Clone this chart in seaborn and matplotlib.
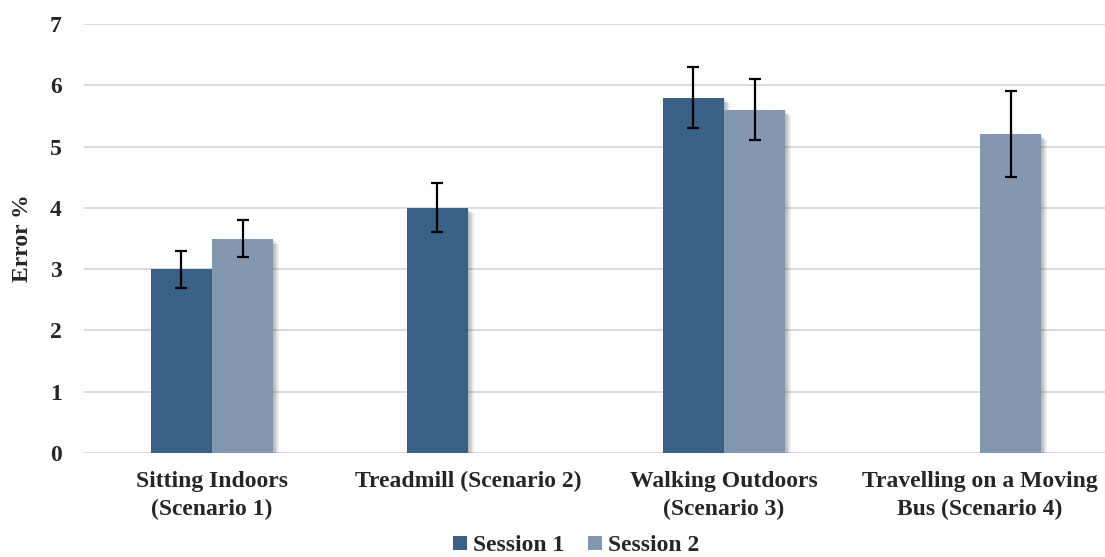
import matplotlib
matplotlib.use("Agg")
import matplotlib.pyplot as plt
import matplotlib.patheffects as pe
from matplotlib.lines import Line2D
import seaborn as sns
import pandas as pd

# Mean error and error-bar half-widths per scenario and session
categories = [
    "Sitting Indoors\n(Scenario 1)",
    "Treadmill (Scenario 2)",
    "Walking Outdoors\n(Scenario 3)",
    "Travelling on a Moving\nBus (Scenario 4)",
]
sessions = ["Session 1", "Session 2"]
session1_err_pct = [3.0, 4.0, 5.8, None]
session2_err_pct = [3.5, None, 5.6, 5.2]
session1_sd = [0.3, 0.4, 0.5, None]
session2_sd = [0.3, None, 0.5, 0.7]
y_ticks = [0, 1, 2, 3, 4, 5, 6, 7]

colors = {"Session 1": "#396185", "Session 2": "#8497B0"}
FS = 17

rows = []
for sess, vals, sds in [("Session 1", session1_err_pct, session1_sd),
                        ("Session 2", session2_err_pct, session2_sd)]:
    for cat, v, s in zip(categories, vals, sds):
        if v is not None:
            rows.append({"scenario": cat, "session": sess, "error": v, "sd": s})
df = pd.DataFrame(rows)

sns.set_theme(style="white")
plt.rcParams["font.family"] = ["Liberation Serif", "DejaVu Serif"]
plt.rcParams["font.weight"] = "bold"

fig = plt.figure(figsize=(11.05, 5.57), dpi=100)
W, H = 1105, 557
ax = fig.add_axes([84 / W, 1 - 453 / H, 1024 / W, (453 - 24) / H])

sns.barplot(data=df, x="scenario", y="error", hue="session",
            order=categories, hue_order=sessions, palette=colors,
            width=0.477, errorbar=None, ax=ax, legend=False,
            saturation=1, linewidth=0)

# soft drop shadow on every bar
shadow = [pe.SimplePatchShadow(offset=(o, -o), shadow_rgbFace="#000000", alpha=0.08)
          for o in (1.0, 2.0, 3.0, 4.0)] + [pe.Normal()]
for bar in ax.patches:
    bar.set_path_effects(shadow)

# error bars at each bar's center
for container, sess in zip(ax.containers, sessions):
    sub = df[df["session"] == sess].set_index("scenario").reindex(
        [c for c in categories if c in set(df[df["session"] == sess]["scenario"])])
    for bar, (_, row) in zip(container, sub.iterrows()):
        ax.errorbar(bar.get_x() + bar.get_width() / 2, bar.get_height(),
                    yerr=row["sd"], fmt="none", ecolor="black",
                    elinewidth=1.6, capsize=4.6, capthick=1.6, zorder=5)

ax.set_xlim(-0.5, 3.5)
ax.set_ylim(0, 7)
ax.set_yticks(y_ticks)
ax.set_yticklabels([str(t) for t in y_ticks], fontsize=FS, fontweight="bold")
ax.yaxis.grid(True, color="#D9D9D9", linewidth=1.3)
ax.set_axisbelow(True)
for s in ax.spines.values():
    s.set_visible(False)
ax.tick_params(axis="y", length=0, pad=16)
ax.tick_params(axis="x", length=0, pad=13)
for lab in ax.get_xticklabels():
    lab.set_fontsize(FS)
    lab.set_fontweight("bold")
    lab.set_linespacing(1.4)
ax.set_xlabel("")
ax.set_ylabel("Error %", fontsize=FS, fontweight="bold", labelpad=12)

handles = [Line2D([], [], marker="s", linestyle="none", markersize=10,
                  markerfacecolor=colors[s], markeredgewidth=0) for s in sessions]
fig.legend(handles, sessions, loc="lower center", bbox_to_anchor=(0.521, -0.037),
           ncol=2, frameon=False, handlelength=0.6, handletextpad=0.25,
           columnspacing=1.0, prop={"size": FS, "weight": "bold"})

fig.savefig("out.png", dpi=100)
